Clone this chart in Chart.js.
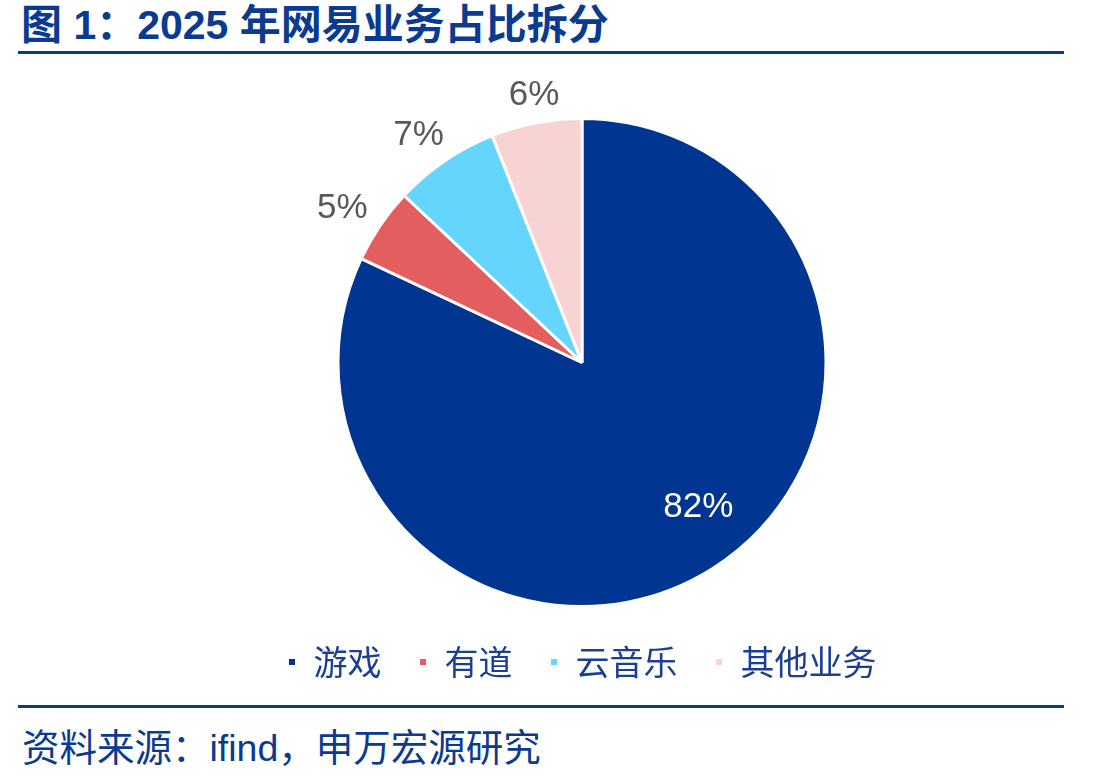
<!DOCTYPE html>
<html>
<head>
<meta charset="utf-8">
<script src="https://cdn.jsdelivr.net/npm/chart.js@4/dist/chart.umd.min.js"></script>
<style>
  html, body { margin: 0; padding: 0; background: #fff; }
  body { width: 1110px; height: 783px; position: relative; overflow: hidden;
         font-family: "Liberation Sans", "Noto Sans CJK SC", sans-serif; }
  #title { position: absolute; left: 21px; top: 0px; font-size: 41px; font-weight: bold;
           color: #0b3a91; white-space: nowrap; line-height: 50px; }
  .rule { position: absolute; left: 18px; width: 1046px; height: 3px; background: #0b3a91; }
  #source { position: absolute; left: 22px; top: 723px; font-size: 37.5px; color: #0b3a91;
            white-space: nowrap; line-height: 50px; }
  #wrap { position: absolute; left: 0; top: 60px; width: 1110px; height: 629px; }
</style>
</head>
<body>
<div id="title">图 1：2025 年网易业务占比拆分</div>
<div class="rule" style="top:51px"></div>
<div id="wrap"><canvas id="pie"></canvas></div>
<div class="rule" style="top:705px"></div>
<div id="source">资料来源：ifind，申万宏源研究</div>
<script>
const categories = ["游戏", "有道", "云音乐", "其他业务"];
const shares = [82, 5, 7, 6];
const sliceColors = ["#003591", "#e35e5e", "#66d5fd", "#f7d3d4"];

function dqs(q) {
  return document.querySelector(q);
}

// % labels: big slice inside, small ones just outside the rim
const pieLabels = {
  id: "pieLabels",
  afterDatasetsDraw(chart) {
    const ctx = chart.ctx;
    const meta = chart.getDatasetMeta(0);
    ctx.save();
    ctx.font = "35px 'Liberation Sans', Arial, sans-serif";
    ctx.textAlign = "center";
    ctx.textBaseline = "middle";
    meta.data.forEach((arc, i) => {
      const p = arc.getProps(["x", "y", "startAngle", "endAngle", "outerRadius"], true);
      const mid = (p.startAngle + p.endAngle) / 2;
      const cos = Math.cos(mid);
      const sin = Math.sin(mid);
      const txt = shares[i] + "%";
      let x, y;
      if (shares[i] > 50) {
        x = p.x + cos * p.outerRadius * 0.76 + 17;
        y = p.y + sin * p.outerRadius * 0.76 - 12;
        ctx.fillStyle = "#ffffff";
      } else {
        const halfW = ctx.measureText(txt).width / 2;
        const r = p.outerRadius + 18;
        x = p.x + cos * (r + halfW) + (i === 3 ? 6 : -2);
        y = p.y + sin * (r + 13) + (i === 3 ? 3 : 0);
        ctx.fillStyle = "#595959";
      }
      ctx.fillText(txt, x, y);
    });
    ctx.restore();
  },
};

new Chart(dqs("#pie").getContext("2d"), {
  type: "pie",
  data: {
    labels: categories,
    datasets: [
      {
        data: shares,
        backgroundColor: sliceColors,
        borderColor: "#ffffff",
        borderWidth: 3,
        hoverOffset: 0,
      },
    ],
  },
  options: {
    responsive: true,
    maintainAspectRatio: false,
    animation: false,
    layout: { padding: { top: 57, left: 54, right: 0, bottom: 0 } },
    plugins: {
      tooltip: { enabled: false },
      legend: {
        position: "bottom",
        labels: {
          font: { size: 34, family: "'Noto Sans CJK SC', sans-serif" },
          color: "#1a3f93",
          boxWidth: 9,
          boxHeight: 9,
          padding: 37,
        },
      },
    },
  },
  plugins: [pieLabels],
});
</script>
</body>
</html>
